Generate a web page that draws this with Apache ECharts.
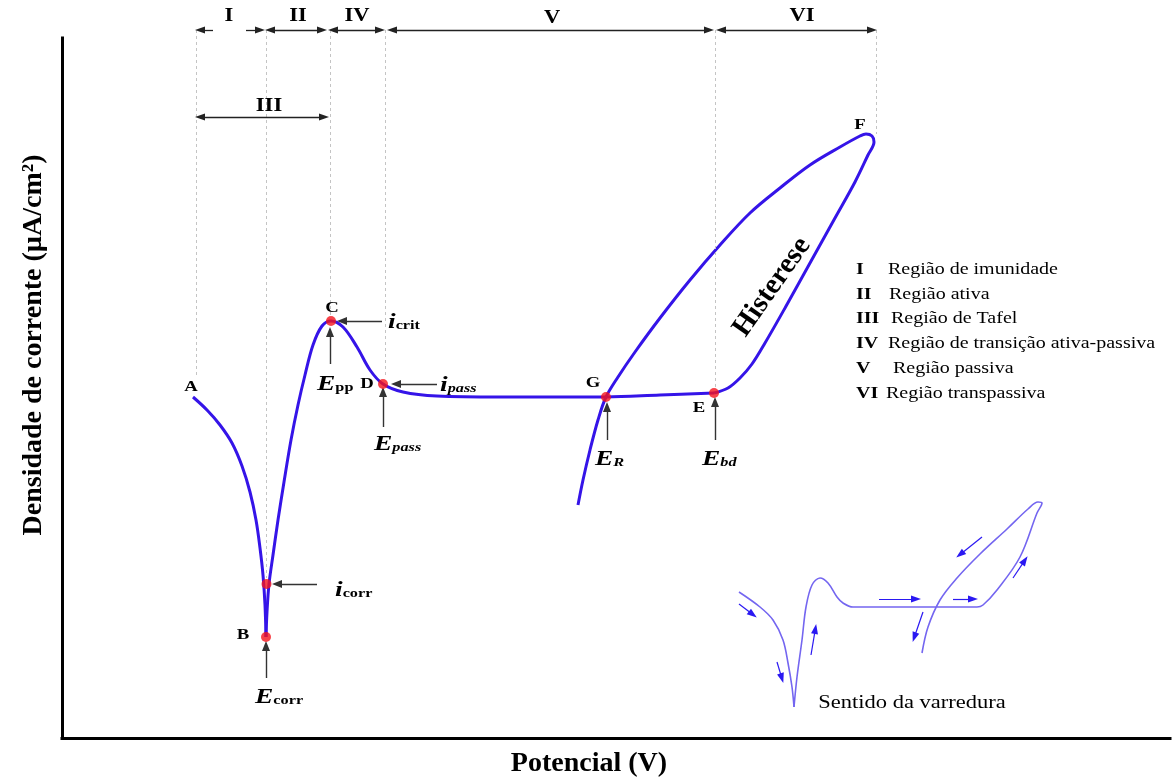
<!DOCTYPE html>
<html><head><meta charset="utf-8">
<script src="https://cdn.jsdelivr.net/npm/echarts@6/dist/echarts.min.js"></script>
<style>html,body{margin:0;padding:0;background:#fff}#c{width:1173px;height:783px}</style>
</head><body><div id="c"></div>
<script>
// ---------- data (schematic units: x = potential, y = current density) ----------
const curveAB = [[131,341],[145,328],[158,313],[170,295],[180,272],[188,246],[194,218],[198,190],[201,163],[203,133],[204,101]];
const curveBE = [[204,101],[205,126],[207,154],[211,183],[216,218],[222,256],[229,298],[236,333],[243,363],[251,393],[260,412],[269,417],[281,411],[295,391],[308,368],[321,354],[341,346],[375,342],[438,341],[498,341],[544,341],[598,343],[652,345]];
const curveEF = [[652,345],[666,350],[678,360],[690,374],[703,395],[723,430],[748,475],[773,520],[793,556],[806,583],[812,596],[810,602],[804,604],[798,602],[778,591],[748,573],[718,550],[688,525],[658,493],[628,458],[598,420],[573,386],[556,361],[544,341],[536,318],[528,288],[521,258],[516,233]];
const keyPoints = [[204,101],[204.5,154],[269,417],[321,354],[544,341],[652,345]]; // B, icorr, C, D, G, E
const insetDown = [[677,146],[698,131],[711,118],[721,98],[726,75],[730,51],[732,31]];
const insetUp = [[732,31],[735,61],[740,98],[744,131],[750,153],[758,160],[766,155],[775,141],[781,135],[791,131],[915,131],[921,133],[935,148],[958,181],[975,225],[980,235],[976,236],[966,229],[945,209],[918,184],[895,160],[878,138],[866,111],[860,85]];
// region boundaries (potential) and their guide heights
const boundaries = [[134,363],[204,160],[268,423],[323,360],[653,350],[814,604]];
const regionTop = 708, regionIII = 621;
const regionArrows = [[151,134,'end'],[184,202,'end'],[204,264,'both'],[267,322,'both'],[326,651,'both'],[655,814,'both']];
const regionIIIArrow = [134,266];
const regionLabels = [['I',167,722],['II',236,722],['IV',295,722],['V',490,720],['VI',740,722],['III',207,632]];
// annotation arrows [from, tip]
const pointerArrows = [[[320,417],[276,417]],[[375,354],[330,354]],[[255,154],[211,154]],[[268,374],[268,410]],[[321,311],[321,350]],[[545,298],[545,335]],[[653,298],[653,340]],[[204,60],[204,96]]];
const insetArrows = [[[677,134],[694,121]],[[715,76],[721,56]],[[749,83],[754,113]],[[817,139],[858,139]],[[891,139],[915,139]],[[861,126],[851,97]],[[920,201],[895,181]],[[951,160],[965,181]]];
const pointLetters = [['A',129,351],['B',181,103],['C',270,430],['D',305,354],['E',637,330],['F',798,613],['G',531,355]];
const quantityLabels = [['{i|i}{s|crit}',326,416],['{i|i}{si|pass}',378,353],['{i|i}{s|corr}',273,148],['{E|E}{s|pp}',255,354],['{E|E}{si|pass}',312,294],['{E|E}{si|R}',533,279],['{E|E}{si|bd}',640,279],['{E|E}{s|corr}',193,41]];
const legendRoman = ['I','II','III','IV','V','VI'];
const legendText = ['Região de imunidade','Região ativa','Região de Tafel','Região de transição ativa-passiva','Região passiva','Região transpassiva'];
const legendY = [468,443,419,394,369,344];
const legendTextX = [826,827,829,826,831,824];
const legendRomanX = 794;
const X_TITLE = 'Potencial (V)';
const Y_TITLE = 'Densidade de corrente (µA/cm²)';

// ---------- styles ----------
const SERIF = "'Liberation Serif','Times New Roman',serif";
const SX = 1.25;
const MAIN = '#3514e8', INSET = '#7466f0', INSET_ARROW = '#2a18f2';

const chart = echarts.init(document.getElementById('c'));

function tipEnd(from, tip, back) {
  const dx = tip[0]-from[0], dy = tip[1]-from[1], L = Math.hypot(dx,dy);
  return [tip[0]-dx/L*back, tip[1]-dy/L*back];
}
const mlines = [];
boundaries.forEach(b => mlines.push([
  {coord:[b[0],regionTop], symbol:'none', lineStyle:{color:'#c4c4c4', width:1, type:[3,3]}},
  {coord:[b[0],b[1]], symbol:'none'}]));
function arrowLine(a, b, both, color, width, size) {
  mlines.push([
    {coord: both ? tipEnd(b,a,4) : a, symbol: both ? 'triangle' : 'none', symbolSize:size, lineStyle:{color, width, type:'solid'}},
    {coord: tipEnd(a,b,4), symbol:'triangle', symbolSize:size}]);
}
regionArrows.forEach(r => arrowLine([r[0],regionTop],[r[1],regionTop], r[2]==='both', '#222', 1.3, [7,10]));
arrowLine([regionIIIArrow[0],regionIII],[regionIIIArrow[1],regionIII], true, '#222', 1.3, [7,10]);
pointerArrows.forEach(p => arrowLine(p[0], p[1], false, '#333', 1.4, [8,10]));
insetArrows.forEach(p => arrowLine(p[0], p[1], false, INSET_ARROW, 1.2, [7,10]));

const lineCommon = {type:'line', xAxisIndex:1, yAxisIndex:1, smooth:0.35, symbol:'none', silent:true};
const option = {
  animation:false,
  backgroundColor:'#fff',
  grid:[{left:62,top:38,right:3,bottom:45},{left:62,top:0,right:0,bottom:45}],
  xAxis:[
    {gridIndex:0,type:'value',min:0,max:1108,name:X_TITLE,nameLocation:'middle',nameGap:12,
     nameTextStyle:{fontFamily:SERIF,fontSize:28,fontWeight:'bold',color:'#000',padding:[0,54,0,0]},
     axisLine:{show:true,lineStyle:{color:'#000',width:3,cap:'square'}},axisTick:{show:false},axisLabel:{show:false},splitLine:{show:false}},
    {gridIndex:1,type:'value',min:0,max:1111,show:false}
  ],
  yAxis:[
    {gridIndex:0,type:'value',min:0,max:700,name:Y_TITLE,nameLocation:'middle',nameGap:14,
     nameTextStyle:{fontFamily:SERIF,fontSize:28,fontWeight:'bold',color:'#000',padding:[0,0,0,86]},
     axisLine:{show:true,lineStyle:{color:'#000',width:3,cap:'square'}},axisTick:{show:false},axisLabel:{show:false},splitLine:{show:false}},
    {gridIndex:1,type:'value',min:0,max:738,show:false}
  ],
  series:[
    Object.assign({}, lineCommon, {name:'A-B', data:curveAB, lineStyle:{color:MAIN,width:3}, z:3}),
    Object.assign({}, lineCommon, {name:'B-E', data:curveBE, lineStyle:{color:MAIN,width:3}, z:3}),
    Object.assign({}, lineCommon, {name:'E-F-G', data:curveEF, lineStyle:{color:MAIN,width:3}, z:3}),
    Object.assign({}, lineCommon, {name:'inset1', data:insetDown, lineStyle:{color:INSET,width:1.6}, z:3}),
    Object.assign({}, lineCommon, {name:'inset2', data:insetUp, lineStyle:{color:INSET,width:1.6}, z:3}),
    {type:'scatter', name:'points', xAxisIndex:1, yAxisIndex:1, data:keyPoints, symbolSize:10,
     itemStyle:{color:'#f5141b'}, z:5, silent:true,
     markLine:{silent:true, animation:false, label:{show:false}, emphasis:{disabled:true}, data:mlines}}
  ]
};
chart.setOption(option);

const toPx = p => chart.convertToPixel({xAxisIndex:1, yAxisIndex:1}, p);
const elements = [];
function addText(text, pos, style, extra) {
  const [x, y] = toPx(pos);
  elements.push(Object.assign({type:'text', x, y, scaleX:SX, silent:true, z:100,
    style:Object.assign({text, fill:'#000', fontFamily:SERIF, align:'center', verticalAlign:'middle',
      textAlign:'center', textVerticalAlign:'middle'}, style)}, extra || {}));
}
pointLetters.forEach(p => addText(p[0], [p[1],p[2]], {fontSize:15, fontWeight:'bold'}));
regionLabels.forEach(p => addText(p[0], [p[1],p[2]], {fontSize:18, fontWeight:'bold'}));
const rich = {
  i:{fontFamily:SERIF, fontSize:22, fontWeight:'bold', fontStyle:'italic', verticalAlign:'bottom'},
  E:{fontFamily:SERIF, fontSize:22, fontWeight:'bold', fontStyle:'italic', verticalAlign:'bottom'},
  s:{fontFamily:SERIF, fontSize:13, fontWeight:'bold', verticalAlign:'bottom', padding:[0,0,1,0]},
  si:{fontFamily:SERIF, fontSize:13, fontWeight:'bold', fontStyle:'italic', verticalAlign:'bottom', padding:[0,0,1,0]}
};
quantityLabels.forEach(p => addText(p[0], [p[1],p[2]], {rich, align:'left', textAlign:'left'}));
legendRoman.forEach((r, k) => {
  addText(r, [legendRomanX, legendY[k]], {fontSize:16, fontWeight:'bold', align:'left', textAlign:'left'});
  addText(legendText[k], [legendTextX[k], legendY[k]], {fontSize:16, align:'left', textAlign:'left'});
});
addText('Sentido da varredura', [850,35], {fontSize:18});
addText('Histerese', [710,451], {fontSize:29, fontWeight:'bold'}, {scaleX:1, rotation:55*Math.PI/180});
chart.setOption({graphic:{elements}});
</script></body></html>
